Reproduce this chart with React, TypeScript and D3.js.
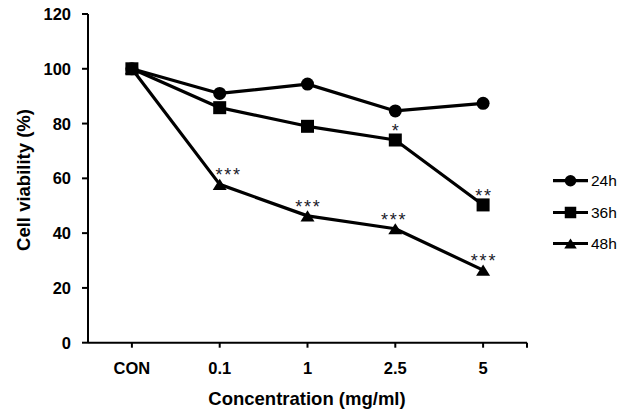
import React from "react";
import * as d3 from "d3";

const categories = ["CON", "0.1", "1", "2.5", "5"];
const yTicks = [0, 20, 40, 60, 80, 100, 120];
const seriesNames = ["24h", "36h", "48h"];
const values24h = [100, 91.0, 94.4, 84.6, 87.4];
const values36h = [100, 85.8, 79.0, 74.0, 50.3];
const values48h = [100, 57.8, 46.3, 41.6, 26.5];
const stars36h = ["", "", "", "*", "**"];
const stars48h = ["", "***", "***", "***", "***"];
const starNudge48h = [0, 8, 0, -2, 0];
const markerTypes = ["circle", "square", "triangle"];

const W = 634;
const H = 410;
const FONT = "'Liberation Sans', Arial, sans-serif";

function Marker({ type, x, y, s }: { type: string; x: number; y: number; s: number }) {
  if (type === "circle") return <circle cx={x} cy={y} r={s / 2} fill="#000" />;
  if (type === "square") return <rect x={x - s / 2} y={y - s / 2} width={s} height={s} fill="#000" />;
  const w = s + 1;
  const h = s * 0.85;
  const p = `M${x},${y - h / 2}L${x + w / 2},${y + h / 2}L${x - w / 2},${y + h / 2}Z`;
  return <path d={p} fill="#000" />;
}

export default function App() {
  const x = d3.scalePoint<string>().domain(categories).range([88, 527]).padding(0.5);
  const y = d3.scaleLinear().domain([0, 120]).range([342.7, 14]);
  const series = [values24h, values36h, values48h];
  const stars = [null, stars36h, stars48h];
  const nudges = [null, null, starNudge48h];
  const line = d3
    .line<number>()
    .x((_, i) => x(categories[i]) as number)
    .y((d) => y(d));

  const legendY = [180.7, 212.5, 243.5];
  const axisX = 88;
  const axisY = y(0);

  return (
    <div style={{ position: "fixed", left: 0, top: 0 }}>
      <svg width={W} height={H} style={{ display: "block", background: "#fff" }}>
        <rect width={W} height={H} fill="#fff" />
        {/* y axis */}
        <line x1={axisX} x2={axisX} y1={y(120)} y2={axisY} stroke="#000" strokeWidth={2} />
        {yTicks.map((t) => (
          <g key={t}>
            <line x1={axisX - 6} x2={axisX} y1={y(t)} y2={y(t)} stroke="#000" strokeWidth={2} />
            <text
              x={71}
              y={y(t)}
              textAnchor="end"
              dominantBaseline="central"
              fontFamily={FONT}
              fontWeight="bold"
              fontSize={16.5}
              fill="#000"
            >
              {t}
            </text>
          </g>
        ))}
        {/* x axis */}
        <line x1={axisX} x2={527} y1={axisY} y2={axisY} stroke="#000" strokeWidth={2} />
        {categories.map((c) => (
          <g key={c}>
            <line x1={x(c)} x2={x(c)} y1={axisY} y2={axisY + 5} stroke="#000" strokeWidth={2} />
            <text
              x={x(c)}
              y={368}
              textAnchor="middle"
              dominantBaseline="central"
              fontFamily={FONT}
              fontWeight="bold"
              fontSize={16.5}
              fill="#000"
            >
              {c}
            </text>
          </g>
        ))}
        <line x1={527} x2={527} y1={axisY} y2={axisY + 5} stroke="#000" strokeWidth={2} />
        <text
          x={307}
          y={398}
          textAnchor="middle"
          dominantBaseline="central"
          fontFamily={FONT}
          fontWeight="bold"
          fontSize={18.5}
          fill="#000"
        >
          Concentration (mg/ml)
        </text>
        <text
          transform={`translate(23,180) rotate(-90)`}
          textAnchor="middle"
          dominantBaseline="central"
          fontFamily={FONT}
          fontWeight="bold"
          fontSize={18.5}
          fill="#000"
        >
          Cell viability (%)
        </text>
        {/* series */}
        {series.map((vals, si) => (
          <g key={si}>
            <path d={line(vals) || ""} fill="none" stroke="#000" strokeWidth={3.2} strokeLinejoin="round" />
            {vals.map((v, i) => (
              <Marker key={i} type={markerTypes[si]} x={x(categories[i]) as number} y={y(v)} s={13} />
            ))}
            {stars[si] &&
              (stars[si] as string[]).map((s, i) =>
                s ? (
                  <text
                    key={"s" + i}
                    x={(x(categories[i]) as number) + ((nudges[si] as number[] | null)?.[i] ?? 0) + 0.9}
                    y={y(vals[i]) - 3}
                    textAnchor="middle"
                    fontFamily={FONT}
                    fontSize={18}
                    letterSpacing={1.8}
                    fill="#1a1a2a"
                  >
                    {s}
                  </text>
                ) : null
              )}
          </g>
        ))}
        {/* legend */}
        {seriesNames.map((n, i) => (
          <g key={n}>
            <line x1={553} x2={588} y1={legendY[i]} y2={legendY[i]} stroke="#000" strokeWidth={3.2} />
            <Marker type={markerTypes[i]} x={570.5} y={legendY[i]} s={11.5} />
            <text
              x={591}
              y={legendY[i]}
              dominantBaseline="central"
              fontFamily={FONT}
              fontSize={15.5}
              fill="#000"
            >
              {n}
            </text>
          </g>
        ))}
      </svg>
    </div>
  );
}
